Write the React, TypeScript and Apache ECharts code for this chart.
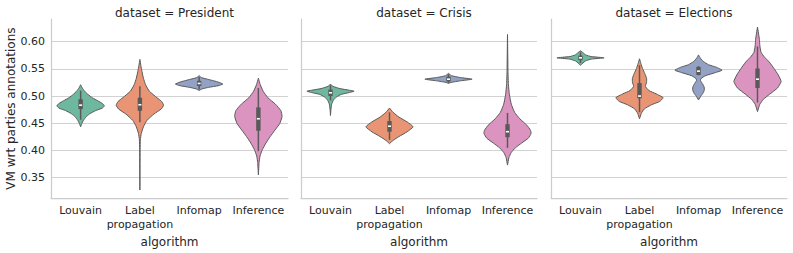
import React, { useEffect, useRef } from "react";
import * as echarts from "echarts";

const categories = ["Louvain", "Label\npropagation", "Infomap", "Inference"];
const datasets = ["President", "Crisis", "Elections"];
const yTicks = [0.35, 0.4, 0.45, 0.5, 0.55, 0.6];
const colors = ["#6fb8a0", "#e99575", "#93a2c4", "#db94c0"];

// violin profiles: [value, relative half-width]
const presidentLouvain = [[0.5208, 0], [0.5149, 0.07], [0.5089, 0.17], [0.503, 0.31], [0.497, 0.49], [0.4911, 0.73], [0.4863, 0.92], [0.4821, 1], [0.478, 0.92], [0.4732, 0.63], [0.4673, 0.38], [0.4613, 0.22], [0.4554, 0.12], [0.4494, 0.05], [0.4435, 0]];
const presidentLabel = [[0.5673, 0], [0.5565, 0.04], [0.5446, 0.09], [0.5327, 0.15], [0.5208, 0.24], [0.5089, 0.4], [0.497, 0.72], [0.49, 0.92], [0.4833, 1], [0.4762, 0.9], [0.4673, 0.6], [0.4554, 0.3], [0.4435, 0.15], [0.4315, 0.06], [0.4196, 0.02], [0.4018, 0.01], [0.3274, 0]];
const presidentInfomap = [[0.5375, 0], [0.5339, 0.1], [0.531, 0.35], [0.528, 0.62], [0.525, 0.85], [0.522, 1], [0.519, 0.8], [0.516, 0.4], [0.5131, 0.12], [0.5101, 0]];
const presidentInference = [[0.5327, 0], [0.5208, 0.08], [0.5089, 0.2], [0.497, 0.4], [0.4851, 0.72], [0.4732, 0.95], [0.4625, 1], [0.4494, 0.9], [0.4375, 0.7], [0.4256, 0.5], [0.4137, 0.32], [0.4018, 0.17], [0.3899, 0.07], [0.378, 0.03], [0.3554, 0]];

const crisisLouvain = [[0.522, 0], [0.5179, 0.1], [0.5137, 0.4], [0.5107, 0.8], [0.5089, 1], [0.5065, 0.8], [0.503, 0.45], [0.4982, 0.25], [0.4923, 0.12], [0.4851, 0.05], [0.4762, 0.02], [0.4643, 0]];
const crisisLabel = [[0.478, 0], [0.4702, 0.15], [0.4613, 0.4], [0.4524, 0.75], [0.4435, 1], [0.4345, 0.75], [0.4256, 0.4], [0.4185, 0.15], [0.4125, 0]];
const crisisInfomap = [[0.5417, 0], [0.5375, 0.12], [0.534, 0.5], [0.531, 1], [0.528, 0.5], [0.525, 0.1], [0.5232, 0]];
const crisisInference = [[0.6131, 0], [0.5804, 0.01], [0.5446, 0.02], [0.5208, 0.04], [0.503, 0.08], [0.4851, 0.16], [0.4702, 0.3], [0.4583, 0.52], [0.4464, 0.82], [0.4375, 0.97], [0.4315, 1], [0.4226, 0.88], [0.4137, 0.6], [0.4048, 0.33], [0.3958, 0.15], [0.3869, 0.06], [0.3732, 0]];

const electionsLouvain = [[0.5833, 0], [0.5792, 0.12], [0.5756, 0.22], [0.5726, 0.45], [0.5702, 1], [0.5679, 0.45], [0.5643, 0.2], [0.5607, 0.1], [0.5565, 0]];
const electionsLabel = [[0.5685, 0], [0.5595, 0.06], [0.5506, 0.13], [0.5417, 0.22], [0.5327, 0.3], [0.5256, 0.3], [0.5179, 0.25], [0.5101, 0.4], [0.5042, 0.7], [0.497, 1], [0.4899, 0.85], [0.4839, 0.5], [0.4762, 0.2], [0.4685, 0.08], [0.4583, 0]];
const electionsInfomap = [[0.5756, 0], [0.5696, 0.08], [0.5637, 0.2], [0.5577, 0.42], [0.553, 0.75], [0.5476, 1], [0.5429, 0.7], [0.5375, 0.3], [0.5327, 0.12], [0.5292, 0.08], [0.5238, 0.15], [0.5179, 0.23], [0.5119, 0.25], [0.506, 0.2], [0.5, 0.1], [0.4929, 0]];
const electionsInference = [[0.6268, 0], [0.616, 0.04], [0.6042, 0.08], [0.5923, 0.1], [0.5804, 0.15], [0.5714, 0.3], [0.5625, 0.5], [0.5506, 0.7], [0.5387, 0.88], [0.5268, 1], [0.5149, 0.85], [0.503, 0.5], [0.494, 0.25], [0.4851, 0.1], [0.4714, 0]];

// inner box stats: [whiskerLow, q1, median, q3, whiskerHigh]
const presidentBox = [[0.4565, 0.476, 0.4833, 0.494, 0.51], [0.452, 0.473, 0.484, 0.497, 0.518], [0.512, 0.5185, 0.5232, 0.528, 0.535], [0.3988, 0.4363, 0.4583, 0.4792, 0.5149]];
const crisisBox = [[0.492, 0.5, 0.506, 0.5119, 0.52], [0.4196, 0.4345, 0.4446, 0.4542, 0.4702], [0.5244, 0.5268, 0.531, 0.5357, 0.54], [0.4048, 0.4244, 0.4345, 0.4482, 0.469]];
const electionsBox = [[0.5607, 0.5661, 0.5702, 0.5744, 0.5804], [0.4702, 0.4958, 0.5, 0.5238, 0.5565], [0.538, 0.5387, 0.5458, 0.5536, 0.555], [0.4881, 0.5149, 0.531, 0.5506, 0.5911]];

const profiles = [
  [presidentLouvain, presidentLabel, presidentInfomap, presidentInference],
  [crisisLouvain, crisisLabel, crisisInfomap, crisisInference],
  [electionsLouvain, electionsLabel, electionsInfomap, electionsInference],
];
const boxes = [presidentBox, crisisBox, electionsBox];

const Y_MIN = 0.3125;
const Y_MAX = 0.6416;
const FONT = "DejaVu Sans";
const TEXT = "#262626";
const LINE = "#595959";
const GRID_LEFTS = [51, 301, 551];
const GRID_WIDTHS = [237, 236, 236];

export default function App() {
  const ref = useRef<HTMLDivElement>(null);
  useEffect(() => {
    if (!ref.current) return;
    const chart = echarts.init(ref.current, undefined, { renderer: "svg" });
    const grids = GRID_LEFTS.map((l, i) => ({ left: l, top: 19, width: GRID_WIDTHS[i], height: 184.3 }));
    const xAxes = datasets.map((_, i) => ({
      type: "category",
      gridIndex: i,
      data: categories,
      boundaryGap: true,
      axisLine: { show: true, lineStyle: { color: "#cccccc", width: 1.25 } },
      axisTick: { show: false },
      axisLabel: { color: TEXT, fontFamily: FONT, fontSize: 11, margin: 6, lineHeight: 13.5, interval: 0 },
      splitLine: { show: false },
      name: "algorithm",
      nameLocation: "middle",
      nameGap: 31,
      nameTextStyle: { color: TEXT, fontFamily: FONT, fontSize: 12, verticalAlign: "top" },
    }));
    const yAxes = datasets.map((_, i) => ({
      type: "value",
      gridIndex: i,
      min: Y_MIN,
      max: Y_MAX,
      axisLine: { show: true, lineStyle: { color: "#cccccc", width: 1.25 } },
      axisTick: { show: false, customValues: yTicks },
      axisLabel: {
        show: i === 0,
        customValues: yTicks,
        color: TEXT,
        fontFamily: FONT,
        fontSize: 11,
        margin: 6,
        formatter: (v: number) => v.toFixed(2),
      },
      splitLine: { show: true, lineStyle: { color: "#d2d2d2", width: 1.1 } },
      name: i === 0 ? "VM wrt parties annotations" : "",
      nameLocation: "middle",
      nameGap: 34,
      nameTextStyle: { color: TEXT, fontFamily: FONT, fontSize: 12 },
    }));
    const series = datasets.map((_, fi) => ({
      type: "custom",
      xAxisIndex: fi,
      yAxisIndex: fi,
      data: categories.map((_, ci) => [ci, boxes[fi][ci][2]]),
      renderItem: (params: any, api: any) => {
        const ci = api.value(0);
        const idx = params.dataIndex;
        const prof = profiles[fi][idx];
        const b = boxes[fi][idx];
        const cx = api.coord([ci, b[2]])[0];
        const hw = api.size([1, 0])[0] * 0.4;
        const yOf = (v: number) => api.coord([ci, v])[1];
        const right = prof.map(([v, f]) => [cx + f * hw, yOf(v)]);
        const left = prof.slice().reverse().map(([v, f]) => [cx - f * hw, yOf(v)]);
        const pts = right.concat(left);
        return {
          type: "group",
          children: [
            {
              type: "polygon",
              shape: { points: pts, smooth: 0.15 },
              style: { fill: colors[ci], stroke: LINE, lineWidth: 1 },
            },
            {
              type: "line",
              shape: { x1: cx, y1: yOf(b[0]), x2: cx, y2: yOf(b[4]) },
              style: { stroke: LINE, lineWidth: 1.5 },
            },
            {
              type: "rect",
              shape: { x: cx - 2.2, y: yOf(b[3]), width: 4.4, height: yOf(b[1]) - yOf(b[3]) },
              style: { fill: LINE },
            },
            {
              type: "rect",
              shape: { x: cx - 1.5, y: yOf(b[2]) - 0.8, width: 3, height: 1.6 },
              style: { fill: "#ffffff" },
            },
          ],
        };
      },
    }));
    chart.setOption({
      animation: false,
      backgroundColor: "#ffffff",
      title: datasets.map((d, i) => ({
        text: "dataset = " + d,
        left: GRID_LEFTS[i] + GRID_WIDTHS[i] / 2,
        top: 2,
        textAlign: "center",
        textStyle: { color: TEXT, fontFamily: FONT, fontSize: 12, fontWeight: "normal" },
      })),
      grid: grids,
      xAxis: xAxes,
      yAxis: yAxes,
      series,
    });
    return () => chart.dispose();
  }, []);
  return <div ref={ref} style={{ position: "fixed", left: 0, top: 0, width: 793, height: 253 }} />;
}
